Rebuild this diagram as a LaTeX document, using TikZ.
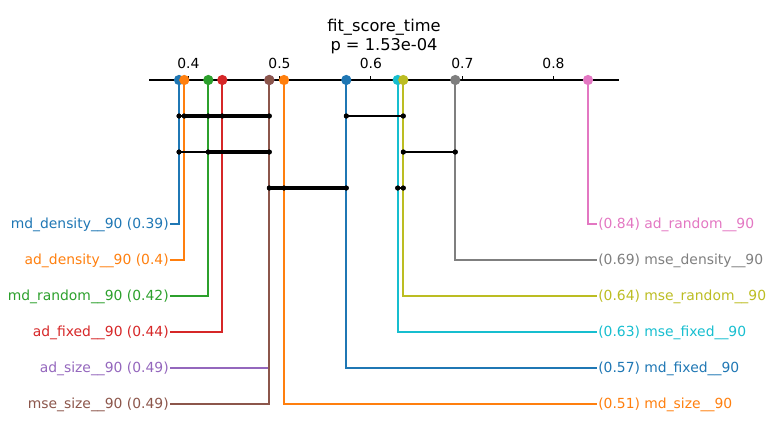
\documentclass[tikz,border=0pt]{standalone}
\usepackage{fontspec}
\setmainfont{DejaVu Sans}
\definecolor{cA}{HTML}{1F77B4}
\definecolor{cB}{HTML}{FF7F0E}
\definecolor{cC}{HTML}{2CA02C}
\definecolor{cD}{HTML}{D62728}
\definecolor{cE}{HTML}{9467BD}
\definecolor{cF}{HTML}{8C564B}
\definecolor{cG}{HTML}{E377C2}
\definecolor{cH}{HTML}{7F7F7F}
\definecolor{cI}{HTML}{BCBD22}
\definecolor{cJ}{HTML}{17BECF}
\begin{document}
\begin{tikzpicture}[x=0.72pt,y=-0.72pt,
  lab/.style={font=\fontsize{10}{12}\selectfont, inner xsep=0.7pt, inner ysep=0pt, text height=0.76em, text depth=0.14em},
  tlab/.style={font=\fontsize{10}{12}\selectfont, inner sep=0pt},
  conn/.style={line width=1.4pt},
  axdot/.style={circle, inner sep=0pt, minimum size=7.4pt},
  kdot/.style={circle, fill=black, inner sep=0pt, minimum size=3.6pt},
  thinbar/.style={line width=1.6pt, black},
  thickbar/.style={line width=2.8pt, black}]
\useasboundingbox (0,0) rectangle (774,436);
% title
\node[font=\fontsize{11.7}{14}\selectfont, align=center, inner sep=0pt] (title) at (384,36.5) {fit\_score\_time\\p = 1.53e-04};
% axis
\coordinate (axl) at (149,80);
\coordinate (axr) at (619,80);
\draw[line width=0.75pt] (axl) -- (axr);
\foreach \v/\x in {0.4/188.3,0.5/279.5,0.6/370.8,0.7/462.3,0.8/553.5}{
  \draw[line width=0.75pt] (\x,80) -- (\x,76);
  \node[tlab] (t\v) at (\x,63) {\v};
}
% axis positions
\coordinate (mdd) at (179,80);
\coordinate (add) at (184.3,80);
\coordinate (mdr) at (208.3,80);
\coordinate (adf) at (222.3,80);
\coordinate (ads) at (269.3,80);
\coordinate (mses) at (269.3,80);
\coordinate (mds) at (284,80);
\coordinate (mdf) at (346.3,80);
\coordinate (msef) at (397.7,80);
\coordinate (mser) at (403.3,80);
\coordinate (msed) at (455.3,80);
\coordinate (adr) at (588,80);
% left labels
\node[lab, anchor=east, text=cA] (Lmdd) at (170,224) {md\_density\_\_90 (0.39)};
\node[lab, anchor=east, text=cB] (Ladd) at (170,260) {ad\_density\_\_90 (0.4)};
\node[lab, anchor=east, text=cC] (Lmdr) at (170,296) {md\_random\_\_90 (0.42)};
\node[lab, anchor=east, text=cD] (Ladf) at (170,332) {ad\_fixed\_\_90 (0.44)};
\node[lab, anchor=east, text=cE] (Lads) at (170,368) {ad\_size\_\_90 (0.49)};
\node[lab, anchor=east, text=cF] (Lmses) at (170,404) {mse\_size\_\_90 (0.49)};
% right labels
\node[lab, anchor=west, text=cG] (Ladr) at (597,224) {(0.84) ad\_random\_\_90};
\node[lab, anchor=west, text=cH] (Lmsed) at (597,260) {(0.69) mse\_density\_\_90};
\node[lab, anchor=west, text=cI] (Lmser) at (597,296) {(0.64) mse\_random\_\_90};
\node[lab, anchor=west, text=cJ] (Lmsef) at (597,332) {(0.63) mse\_fixed\_\_90};
\node[lab, anchor=west, text=cA] (Lmdf) at (597,368) {(0.57) md\_fixed\_\_90};
\node[lab, anchor=west, text=cB] (Lmds) at (597,404) {(0.51) md\_size\_\_90};
% connectors
\draw[conn, cA] (mdd) |- (Lmdd.east);
\draw[conn, cB] (add) |- (Ladd.east);
\draw[conn, cC] (mdr) |- (Lmdr.east);
\draw[conn, cD] (adf) |- (Ladf.east);
\draw[conn, cE] (ads) |- (Lads.east);
\draw[conn, cF] (mses) |- (Lmses.east);
\draw[conn, cB] (mds) |- (Lmds.west);
\draw[conn, cA] (mdf) |- (Lmdf.west);
\draw[conn, cJ] (msef) |- (Lmsef.west);
\draw[conn, cI] (mser) |- (Lmser.west);
\draw[conn, cH] (msed) |- (Lmsed.west);
\draw[conn, cG] (adr) |- (Ladr.west);
% clique bars, row 1
\node[kdot] (a1) at (179,116) {};
\node[kdot] (a2) at (184.3,116) {};
\node[kdot] (a3) at (208.3,116) {};
\node[kdot] (a4) at (222.3,116) {};
\node[kdot] (a5) at (269.3,116) {};
\node[kdot] (a6) at (346.3,116) {};
\node[kdot] (a7) at (403.3,116) {};
\draw[thinbar] (a1.center) -- (a2.center);
\draw[thickbar] (a2.center) -- (a5.center);
\draw[thinbar] (a6.center) -- (a7.center);
% row 2
\node[kdot] (b1) at (179,152) {};
\node[kdot] (b2) at (208.3,152) {};
\node[kdot] (b3) at (269.3,152) {};
\node[kdot] (b4) at (403.3,152) {};
\node[kdot] (b5) at (455.3,152) {};
\draw[thinbar] (b1.center) -- (b2.center);
\draw[thickbar] (b2.center) -- (b3.center);
\draw[thinbar] (b4.center) -- (b5.center);
% row 3
\node[kdot] (c1) at (269.3,188) {};
\node[kdot] (c2) at (284,188) {};
\node[kdot] (c3) at (346.3,188) {};
\node[kdot] (c4) at (397.7,188) {};
\node[kdot] (c5) at (403.3,188) {};
\draw[thickbar] (c1.center) -- (c3.center);
\draw[thinbar] (c4.center) -- (c5.center);
\foreach \n in {a1,a2,a3,a4,a5,a6,a7,b1,b2,b3,b4,b5,c1,c2,c3,c4,c5}{\fill (\n) circle (1.8pt);}
% axis dots
\node[axdot, fill=cA] (Dmdd) at (mdd) {};
\node[axdot, fill=cB] (Dadd) at (add) {};
\node[axdot, fill=cC] (Dmdr) at (mdr) {};
\node[axdot, fill=cD] (Dadf) at (adf) {};
\node[axdot, fill=cE] (Dads) at (ads) {};
\node[axdot, fill=cF] (Dmses) at (mses) {};
\node[axdot, fill=cB] (Dmds) at (mds) {};
\node[axdot, fill=cA] (Dmdf) at (mdf) {};
\node[axdot, fill=cJ] (Dmsef) at (msef) {};
\node[axdot, fill=cI] (Dmser) at (mser) {};
\node[axdot, fill=cH] (Dmsed) at (msed) {};
\node[axdot, fill=cG] (Dadr) at (adr) {};
\end{tikzpicture}
\end{document}
